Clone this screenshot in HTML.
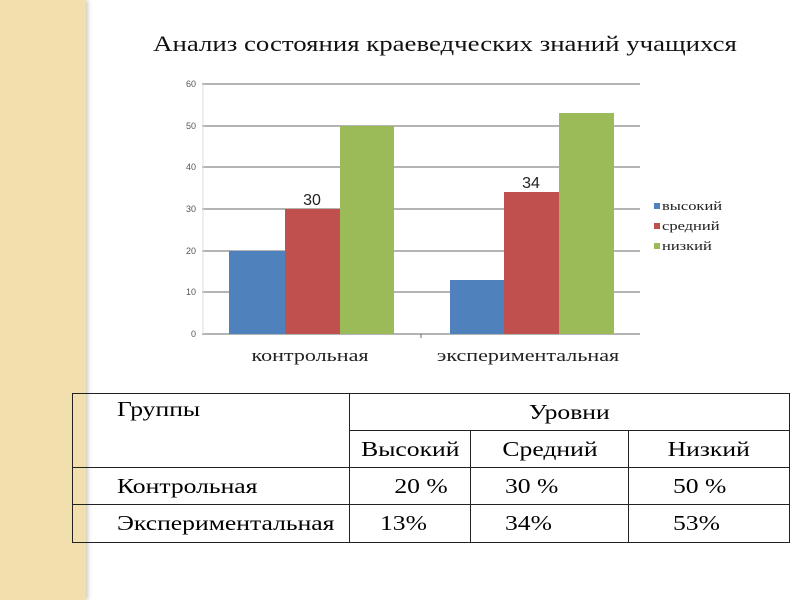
<!DOCTYPE html>
<html><head><meta charset="utf-8"><style>
body{margin:0;width:800px;height:600px;background:#fff;position:relative;overflow:hidden;font-family:"Liberation Serif","DejaVu Serif",serif}
#side{position:absolute;left:0;top:0;width:86px;height:600px;background:#f1dfae;box-shadow:2px 0 4px rgba(120,100,60,.35)}
table{position:absolute;left:72px;top:393px;border-collapse:collapse;font-size:21px}
td{border:1.5px solid #222;padding:0;height:36px;vertical-align:middle;white-space:nowrap}
s{text-decoration:none;display:inline-block;transform:scaleX(1.22);transform-origin:left center}
s.c{transform-origin:center center}
s.r{transform-origin:right center}
</style></head><body>
<div id="side"></div>
<svg width="800" height="380" style="position:absolute;left:0;top:0">
<text transform="translate(445,51) scale(1.22,1)" text-anchor="middle" font-size="22" font-family="Liberation Serif,serif" fill="#111">Анализ состояния краеведческих знаний учащихся</text>
<g stroke="#888" stroke-width="1.3">
<line x1="202" y1="84" x2="640" y2="84"/><line x1="202" y1="126" x2="640" y2="126"/>
<line x1="202" y1="167" x2="640" y2="167"/><line x1="202" y1="209" x2="640" y2="209"/>
<line x1="202" y1="251" x2="640" y2="251"/><line x1="202" y1="292" x2="640" y2="292"/>
<line x1="202" y1="334" x2="640" y2="334"/>
</g>
<line x1="203" y1="84" x2="203" y2="334" stroke="#ddd"/>
<line x1="421" y1="334" x2="421" y2="338" stroke="#666"/>
<g font-family="Liberation Sans,sans-serif" font-size="9" fill="#555" text-anchor="end">
<text x="196" y="87">60</text><text x="196" y="129">50</text><text x="196" y="170">40</text>
<text x="196" y="212">30</text><text x="196" y="254">20</text><text x="196" y="295">10</text><text x="196" y="337">0</text>
</g>
<rect x="229" y="251" width="56" height="83" fill="#4f81bd"/>
<rect x="285" y="209" width="55" height="125" fill="#c0504d"/>
<rect x="340" y="126" width="54" height="208" fill="#9bbb59"/>
<rect x="450" y="280" width="54" height="54" fill="#4f81bd"/>
<rect x="504" y="192" width="55" height="142" fill="#c0504d"/>
<rect x="559" y="113" width="55" height="221" fill="#9bbb59"/>
<g font-family="Liberation Sans,sans-serif" font-size="16" fill="#222" text-anchor="middle">
<text x="312" y="205">30</text><text x="531" y="188">34</text></g>
<g font-family="Liberation Serif,serif" font-size="17" fill="#222" text-anchor="middle">
<text transform="translate(310,361) scale(1.3,1)">контрольная</text><text transform="translate(528,361) scale(1.3,1)">экспериментальная</text></g>
<rect x="654" y="203" width="6" height="6" fill="#4f81bd"/>
<rect x="654" y="223" width="6" height="6" fill="#c0504d"/>
<rect x="654" y="243" width="6" height="6" fill="#9bbb59"/>
<g font-family="Liberation Serif,serif" font-size="13" fill="#222">
<text transform="translate(662,210) scale(1.27,1)">высокий</text><text transform="translate(662,230) scale(1.27,1)">средний</text><text transform="translate(662,250) scale(1.27,1)">низкий</text></g>
</svg>
<table>
<tr><td rowspan="2" style="width:277px;height:74px;vertical-align:top;padding:3px 0 0 44px;box-sizing:border-box"><s>Группы</s></td>
<td colspan="3" style="text-align:center;height:36px"><s class="c">Уровни</s></td></tr>
<tr><td style="width:120px;text-align:center"><s class="c">Высокий</s></td><td style="width:157px;text-align:center"><s class="c">Средний</s></td><td style="width:160px;text-align:center"><s class="c">Низкий</s></td></tr>
<tr><td style="padding-left:44px"><s>Контрольная</s></td><td style="text-align:right;padding-right:22px"><s class="r">20 %</s></td><td style="padding-left:34px"><s>30 %</s></td><td style="padding-left:44px"><s>50 %</s></td></tr>
<tr><td style="padding-left:44px;height:37px"><s>Экспериментальная</s></td><td style="padding-left:30px"><s>13%</s></td><td style="padding-left:34px"><s>34%</s></td><td style="padding-left:44px"><s>53%</s></td></tr>
</table>
</body></html>
